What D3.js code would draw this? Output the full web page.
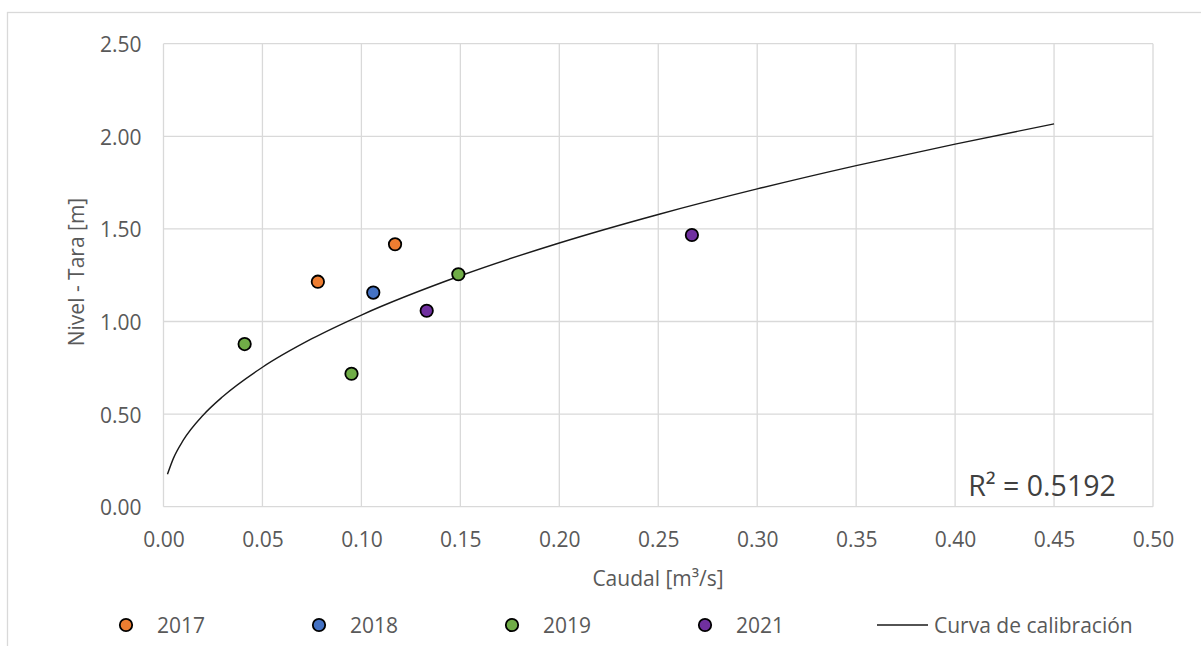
<!DOCTYPE html>
<html><head><meta charset="utf-8">
<script src="https://cdn.jsdelivr.net/npm/d3@7"></script>
<style>body{margin:0;background:#fff;} svg{display:block;}</style>
</head><body>
<svg id="c" width="1201" height="646"></svg>
<script>
// ---- data ----
const series = ["2017", "2018", "2019", "2021"];
const seriesColors = ["#ED7D31", "#4472C4", "#70AD47", "#7030A0"];
const q2017 = [0.078, 0.117];
const h2017 = [1.215, 1.417];
const q2018 = [0.106];
const h2018 = [1.156];
const q2019 = [0.041, 0.095, 0.149];
const h2019 = [0.878, 0.718, 1.255];
const q2021 = [0.133, 0.267];
const h2021 = [1.058, 1.467];
const curveQ = [0.002, 0.005, 0.01, 0.02, 0.03, 0.05, 0.075, 0.1, 0.15, 0.2, 0.25, 0.3, 0.35, 0.4, 0.45];
const curveH = [0.175, 0.261, 0.359, 0.494, 0.595, 0.753, 0.907, 1.035, 1.247, 1.424, 1.578, 1.716, 1.842, 1.958, 2.067];
const xTicks = [0, 0.05, 0.1, 0.15, 0.2, 0.25, 0.3, 0.35, 0.4, 0.45, 0.5];
const yTicks = [0, 0.5, 1.0, 1.5, 2.0, 2.5];
const r2Label = "R² = 0.5192";
const xTitle = "Caudal [m³/s]";
const yTitle = "Nivel - Tara [m]";
const curveLabel = "Curva de calibración";

const pointsBySeries = [[q2017, h2017], [q2018, h2018], [q2019, h2019], [q2021, h2021]];

// ---- drawing ----
const svg = d3.select("#c");
const font = "'Open Sans', sans-serif";
const txt = "#595959";
const grid = "#d9d9d9";
const fs = 21;

svg.append("rect").attr("x", 7.5).attr("y", 12.5).attr("width", 1220).attr("height", 700)
  .attr("fill", "none").attr("stroke", grid).attr("stroke-width", 1.3);

const x = d3.scaleLinear().domain([0, 0.5]).range([163.5, 1153]);
const y = d3.scaleLinear().domain([0, 2.5]).range([506.7, 43.7]);

const g = svg.append("g");
g.selectAll(".vg").data(xTicks).join("line")
  .attr("x1", d => x(d)).attr("x2", d => x(d)).attr("y1", y(0)).attr("y2", y(2.5))
  .attr("stroke", grid).attr("stroke-width", 1.3);
g.selectAll(".hg").data(yTicks).join("line")
  .attr("x1", x(0)).attr("x2", x(0.5)).attr("y1", d => y(d)).attr("y2", d => y(d))
  .attr("stroke", grid).attr("stroke-width", 1.3);

const xAxis = d3.axisBottom(x).tickValues(xTicks).tickFormat(d3.format(".2f")).tickSize(0);
const xa = svg.append("g").attr("transform", `translate(0,${y(0)})`).call(xAxis);
xa.select(".domain").remove();
xa.selectAll("text").attr("font-family", font).attr("font-size", fs).attr("fill", txt)
  .attr("y", 32).attr("dy", null).attr("dominant-baseline", "central");

const yAxis = d3.axisLeft(y).tickValues(yTicks).tickFormat(d3.format(".2f")).tickSize(0);
const ya = svg.append("g").attr("transform", `translate(${x(0)},0)`).call(yAxis);
ya.select(".domain").remove();
ya.selectAll("text").attr("font-family", font).attr("font-size", fs).attr("fill", txt)
  .attr("x", -22).attr("dy", null).attr("dominant-baseline", "central");

const line = d3.line().x(d => x(d[0])).y(d => y(d[1])).curve(d3.curveMonotoneX);
svg.append("path").datum(curveQ.map((q, i) => [q, curveH[i]]))
  .attr("d", line).attr("fill", "none").attr("stroke", "#1a1a1a").attr("stroke-width", 1.4);

pointsBySeries.forEach((p, si) => {
  svg.append("g").selectAll("circle").data(p[0].map((q, i) => [q, p[1][i]])).join("circle")
    .attr("cx", d => x(d[0])).attr("cy", d => y(d[1])).attr("r", 6.2)
    .attr("fill", seriesColors[si]).attr("stroke", "#000").attr("stroke-width", 1.8);
});

svg.append("text").attr("x", 1042).attr("y", 485).attr("text-anchor", "middle")
  .attr("dominant-baseline", "central").attr("font-family", font).attr("font-size", 28.5)
  .attr("fill", "#404040").text(r2Label);

svg.append("text").attr("x", 658).attr("y", 578).attr("text-anchor", "middle")
  .attr("dominant-baseline", "central").attr("font-family", font).attr("font-size", fs)
  .attr("fill", txt).text(xTitle);
svg.append("text").attr("transform", "translate(76,272) rotate(-90)").attr("text-anchor", "middle")
  .attr("dominant-baseline", "central").attr("font-family", font).attr("font-size", fs)
  .attr("fill", txt).text(yTitle);

const legX = [126, 319, 512, 705];
const legY = 625;
series.forEach((s, i) => {
  svg.append("circle").attr("cx", legX[i]).attr("cy", legY).attr("r", 6.2)
    .attr("fill", seriesColors[i]).attr("stroke", "#000").attr("stroke-width", 1.8);
  svg.append("text").attr("x", legX[i] + 31).attr("y", legY).attr("dominant-baseline", "central")
    .attr("font-family", font).attr("font-size", fs).attr("fill", txt).text(s);
});
svg.append("line").attr("x1", 877).attr("x2", 928).attr("y1", legY).attr("y2", legY)
  .attr("stroke", "#1a1a1a").attr("stroke-width", 1.4);
svg.append("text").attr("x", 934).attr("y", legY).attr("dominant-baseline", "central")
  .attr("font-family", font).attr("font-size", fs).attr("fill", txt).text(curveLabel);
</script>
</body></html>
